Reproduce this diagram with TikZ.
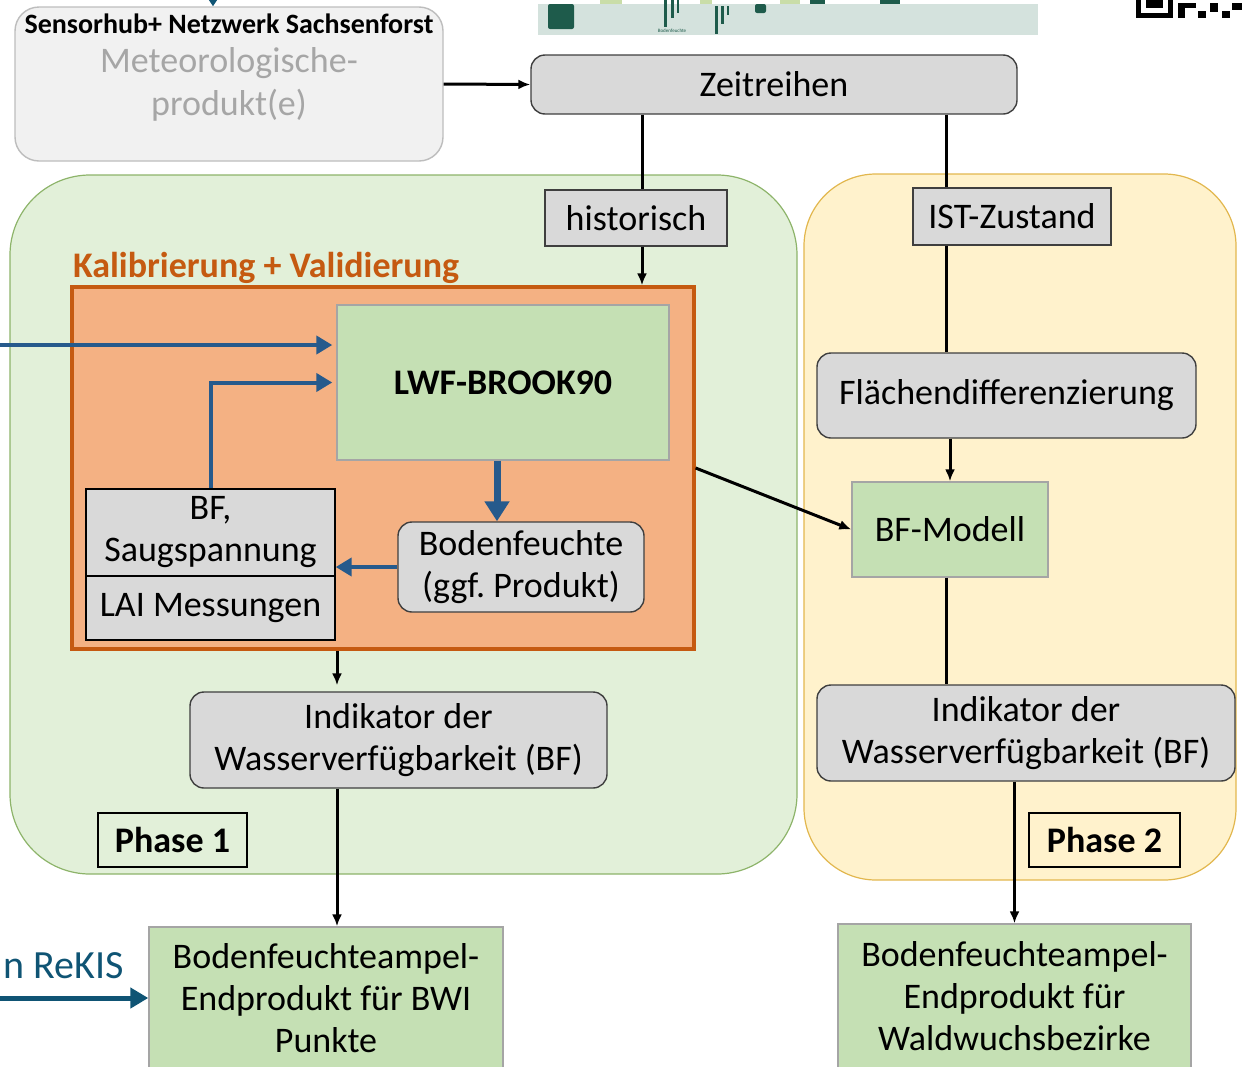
\documentclass[tikz,border=0pt]{standalone}
\usepackage{fontspec}
\setmainfont{Carlito}
\usepackage{tikz}
\usetikzlibrary{arrows.meta}

\definecolor{boxgray}{HTML}{D9D9D9}
\definecolor{edgegray}{HTML}{3F3F3F}
\definecolor{modelgreen}{HTML}{C5E0B4}
\definecolor{modeledge}{HTML}{A5A5A5}
\definecolor{phaseonebg}{HTML}{E2F0D9}
\definecolor{phaseoneedge}{HTML}{8DB46A}
\definecolor{phasetwobg}{HTML}{FFF2CC}
\definecolor{phasetwoedge}{HTML}{E2B74E}
\definecolor{kalfill}{HTML}{F4B183}
\definecolor{kaledge}{HTML}{C55A11}
\definecolor{flowblue}{HTML}{265A8C}
\definecolor{rekisblue}{HTML}{0F5474}
\definecolor{sensorbg}{HTML}{F1F1F1}
\definecolor{sensoredge}{HTML}{BDBDBD}
\definecolor{sensortext}{HTML}{A6A6A6}
\definecolor{stripbg}{HTML}{D4E2DD}
\definecolor{stripdark}{HTML}{1E5B4B}
\definecolor{striplight}{HTML}{C9DDA8}

\tikzset{
  txt/.style={font=\fontsize{18}{21}\selectfont, align=center},
  graybox/.style={txt, draw=edgegray, fill=boxgray, line width=0.7pt, inner sep=0pt},
  roundbox/.style={graybox, rounded corners=7pt},
  greenbox/.style={txt, draw=modeledge, fill=modelgreen, line width=0.7pt, inner sep=0pt},
  phasebox/.style={txt, draw=black, line width=0.7pt, inner sep=0pt, font=\fontsize{18}{21}\selectfont\bfseries},
  flow/.style={-{Latex[length=6pt,width=5pt]}, line width=1.5pt},
  blueflow/.style={-{Triangle[length=8pt,width=9pt]}, line width=2pt, draw=flowblue, color=flowblue},
}

\begin{document}
\begin{tikzpicture}[x=0.5pt, y=-0.5pt]
    \useasboundingbox (0,0) rectangle (1242,1066);

    % cut-off picture and QR code at the top edge
    \fill[stripbg] (538,4) rectangle (1038,35);
    \fill[striplight] (600,0) rectangle (622,4);
    \fill[striplight] (700,0) rectangle (712,4);
    \fill[striplight] (780,0) rectangle (800,4);
    \fill[stripdark, rounded corners=1pt] (548,4) rectangle (574,29);
    \fill[stripdark] (664,0) rectangle (667,27);
    \fill[stripdark] (671,0) rectangle (674,18);
    \fill[stripdark] (677,0) rectangle (679,13);
    \fill[stripdark] (715,6) rectangle (718,34);
    \fill[stripdark] (721,6) rectangle (724,24);
    \fill[stripdark] (727,6) rectangle (729,15);
    \fill[stripdark, rounded corners=1pt] (755,4) rectangle (766,13);
    \fill[stripdark] (810,0) rectangle (825,4);
    \fill[stripdark] (880,0) rectangle (900,4);
    \node[font=\fontsize{2.5}{3}\selectfont, text=stripdark] (striplabel) at (672,31) {Bodenfeuchte};
    \fill[black] (1136,0) rectangle (1173,18);
    \fill[white] (1141,0) rectangle (1168,13);
    \fill[black] (1146,0) rectangle (1163,8);
    \fill[black] (1178,3) rectangle (1185,18);
    \fill[black] (1185,3) rectangle (1196,8);
    \fill[black] (1198,11) rectangle (1206,18);
    \fill[black] (1210,3) rectangle (1218,12);
    \fill[black] (1222,11) rectangle (1230,18);
    \fill[black] (1232,3) rectangle (1242,10);

    % phase areas
    \draw[fill=phaseonebg, draw=phaseoneedge, line width=0.6pt, rounded corners=40pt] (10,175) rectangle (797,874);
    \draw[fill=phasetwobg, draw=phasetwoedge, line width=0.6pt, rounded corners=36pt] (804,174) rectangle (1236,880);

    % top row
    \node[draw=sensoredge, fill=sensorbg, line width=0.7pt, rounded corners=12pt, minimum width=214pt, minimum height=77pt,
          txt, font=\fontsize{18}{21.5}\selectfont, text=sensortext] (sensor) at (229,84) {Meteorologische-\\produkt(e)};
    \node[font=\fontsize{14}{16}\selectfont\bfseries] (sensortitle) at (229,24) {Sensorhub+ Netzwerk Sachsenforst};
    \node[roundbox, minimum width=243pt, minimum height=29.5pt] (zeit) at (774,84.5) {Zeitreihen};

    \node[graybox, minimum width=91pt, minimum height=28pt] (hist) at (636,218) {historisch};
    \node[graybox, minimum width=99pt, minimum height=28.5pt] (ist) at (1012,216.5) {IST-Zustand};

    % Kalibrierung block
    \node[draw=kaledge, fill=kalfill, line width=1.6pt, minimum width=311pt, minimum height=181pt] (kal) at (383,468) {};
    \node[anchor=west, text=kaledge, font=\fontsize{18}{21}\selectfont\bfseries] (kaltitle) at (66,268) {Kalibrierung + Validierung};
    \node[greenbox, minimum width=166pt, minimum height=77.5pt, font=\fontsize{18}{21}\selectfont\bfseries] (lwf) at (503,382.5) {LWF-BROOK90};
    \node[graybox, draw=black, minimum width=124.5pt, minimum height=43.5pt] (bfs) at (210.5,532.5) {BF,\\Saugspannung};
    \node[graybox, draw=black, minimum width=124.5pt, minimum height=32pt] (lai) at (210.5,608) {LAI Messungen};
    \node[roundbox, minimum width=123pt, minimum height=45pt] (bodenf) at (521,567) {Bodenfeuchte\\(ggf.~Produkt)};

    \node[roundbox, minimum width=208.5pt, minimum height=48pt] (indone) at (398.5,740) {Indikator der\\Wasserverfügbarkeit (BF)};
    \node[phasebox, minimum width=74.5pt, minimum height=27pt] (phone) at (172.5,840) {Phase 1};
    \node[greenbox, minimum width=177pt, minimum height=71.5pt] (ampelone) at (326,998.5) {Bodenfeuchteampel-\\Endprodukt für BWI\\Punkte};
    \node[anchor=east, inner sep=1pt, text=rekisblue, font=\fontsize{20}{24}\selectfont] (rekis) at (126,966) {n ReKIS};

    % phase 2 column
    \node[roundbox, minimum width=189.5pt, minimum height=42.5pt] (flaech) at (1006.5,395.5) {Flächendifferenzierung};
    \node[greenbox, minimum width=98pt, minimum height=47.5pt] (bfm) at (950,529.5) {BF-Modell};
    \node[roundbox, minimum width=209pt, minimum height=48pt] (indtwo) at (1026,733) {Indikator der\\Wasserverfügbarkeit (BF)};
    \node[phasebox, minimum width=75.5pt, minimum height=27pt] (phtwo) at (1104.5,840) {Phase 2};
    \node[greenbox, minimum width=176.5pt, minimum height=72pt] (ampeltwo) at (1014.5,996) {Bodenfeuchteampel-\\Endprodukt für\\Waldwuchsbezirke};

    % columns for vertical lines
    \coordinate (colhist) at (642,0);
    \coordinate (colist) at (946,0);
    \coordinate (colind) at (337,0);
    \coordinate (collwf) at (497,0);
    \coordinate (inlwf) at (0,345);
    \coordinate (inrekis) at (0,998);
    \coordinate (insensor) at (213,-10);

    % black connectors
    \draw[flow] (sensor.east) -- (zeit.west);
    \draw[line width=1.5pt] (zeit.south -| colhist) -- (hist.north -| colhist);
    \draw[flow] (hist.south -| colhist) -- (kal.north -| colhist);
    \draw[line width=1.5pt] (zeit.south -| colist) -- (ist.north -| colist);
    \draw[line width=1.5pt] (ist.south -| colist) -- (flaech.north -| colist);
    \draw[flow] (flaech.south -| bfm.north) -- (bfm.north);
    \draw[line width=1.5pt] (bfm.south -| colist) -- (indtwo.north -| colist);
    \draw[flow] (indtwo.south -| ampeltwo.north) -- (ampeltwo.north);
    \draw[flow] (kal.east) -- (bfm.west);
    \draw[flow] (kal.south -| colind) -- ([yshift=3pt]indone.north -| colind);
    \draw[flow] (indone.south -| colind) -- (ampelone.north -| colind);

    % blue connectors
    \draw[blueflow] (inlwf) -- ([xshift=-2pt]inlwf -| lwf.west);
    \draw[blueflow] (bfs.north) |- ([xshift=-2pt]lwf.west);
    \draw[-{Triangle[length=10pt,width=12pt]}, line width=3.5pt, draw=flowblue, color=flowblue] (lwf.south -| collwf) -- (bodenf.north -| collwf);
    \draw[blueflow] (bodenf.west) -- (bodenf.west -| bfs.east);
    \draw[-{Triangle[length=9pt,width=10pt]}, line width=2.5pt, draw=rekisblue, color=rekisblue] (inrekis) -- (inrekis -| ampelone.west);
    \draw[-{Triangle[length=4pt,width=5pt]}, line width=1pt, draw=rekisblue, color=rekisblue] (insensor) -- (insensor |- sensor.north);
\end{tikzpicture}
\end{document}
